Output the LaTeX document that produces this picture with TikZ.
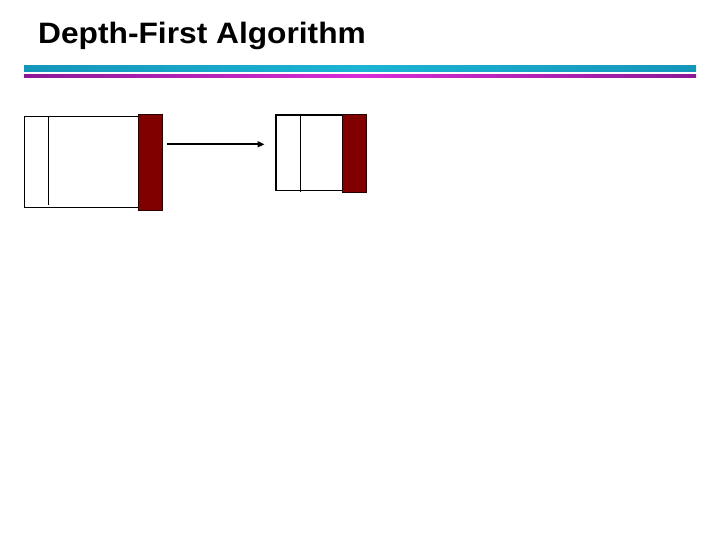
\documentclass[tikz,border=0pt]{standalone}
\usepackage{fontspec}
\setmainfont{Liberation Sans}
\usetikzlibrary{arrows.meta}
\definecolor{barcyan}{RGB}{27,180,212}
\definecolor{barcyandark}{RGB}{20,150,185}
\definecolor{barmag}{RGB}{215,45,215}
\definecolor{barpurple}{RGB}{140,25,150}
\definecolor{stackred}{RGB}{128,0,0}
\tikzset{
  frame/.style={draw=black, line width=1.2pt, fill=white, inner sep=0pt, outer sep=0pt},
  redcap/.style={draw=black!70!stackred, line width=0.8pt, fill=stackred, inner sep=0pt, outer sep=0pt},
  divider/.style={draw=black, line width=1.2pt},
  link/.style={draw=black, line width=1.8pt, -{Triangle[length=7pt,width=6pt]}},
}
\begin{document}
\begin{tikzpicture}[x=1pt,y=-1pt]
\useasboundingbox (0,0) rectangle (720,540);
% title
\node[anchor=base west, inner sep=0pt, font=\bfseries\fontsize{29.5}{34}\selectfont] (title) at (38,43.3) {\scalebox{1.075}[1]{Depth-First Algorithm}};
% bars
\shade[left color=barcyandark, right color=barcyandark, middle color=barcyan] (24,66) rectangle (696,71.7);
\shade[left color=barpurple, right color=barpurple, middle color=barmag] (24,75) rectangle (696,77.7);
% left stack
\node[frame, minimum width=114.7pt, minimum height=91pt, anchor=north west] (box1) at (24.3,116.7) {};
\draw[divider] (48.3,116.7) coordinate (d1top) -- (48.3,205) coordinate (d1bot);
\node[redcap, minimum width=24.4pt, minimum height=96pt, anchor=north west] (red1) at (138.3,114.3) {};
% right stack
\node[frame, minimum width=66.3pt, minimum height=75.7pt, anchor=north west] (box2) at (276,115) {};
\draw[divider] (300.3,115) coordinate (d2top) -- (300.3,191.7) coordinate (d2bot);
\node[redcap, minimum width=24.4pt, minimum height=78.3pt, anchor=north west] (red2) at (342.3,114) {};
% arrow
\coordinate (a1) at (167.3,144.3);
\coordinate (a2) at (264.5,144.3);
\draw[link] (a1) -- (a2);
\end{tikzpicture}
\end{document}
